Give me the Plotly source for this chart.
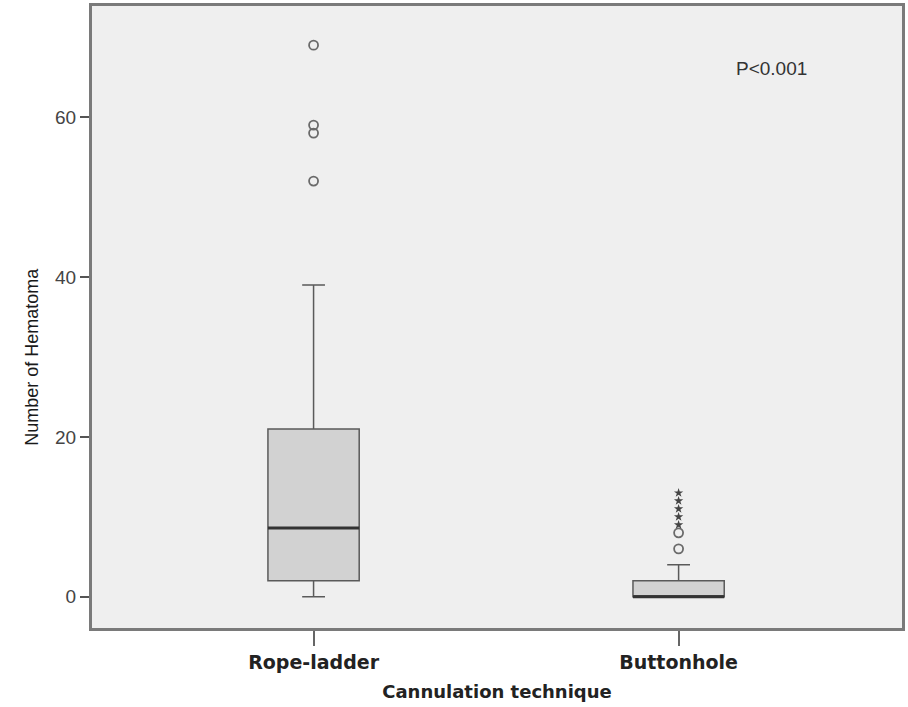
import plotly.graph_objects as go

categories = ["Rope-ladder", "Buttonhole"]
q1 = [2, 0]
median = [8.6, 0]
q3 = [21, 2]
lower_whisker = [0, 0]
upper_whisker = [39, 4]
outliers_circle = [[52, 58, 59, 69], [6, 8]]
outliers_extreme = [[], [9, 10, 11, 12, 13]]
y_ticks = [0, 20, 40, 60]
p_text = "P<0.001"
x_title = "Cannulation technique"
y_title = "Number of Hematoma"

FONT = "Liberation Sans, Arial, sans-serif"
BOLDFONT = "DejaVu Sans, Liberation Sans, sans-serif"
pos = list(range(len(categories)))
box_w = 0.25

fig = go.Figure()
fig.add_trace(go.Box(
    x=pos, q1=q1, median=median, q3=q3,
    lowerfence=lower_whisker, upperfence=upper_whisker,
    width=box_w, whiskerwidth=0.25,
    fillcolor="#d2d2d2", line=dict(color="#5a5a5a", width=1.5),
    boxpoints=False, showlegend=False, hoverinfo="skip",
))
# thicker median lines
for i, m in enumerate(median):
    fig.add_trace(go.Scatter(
        x=[pos[i] - box_w / 2, pos[i] + box_w / 2], y=[m, m],
        mode="lines", line=dict(color="#333333", width=3),
        showlegend=False, hoverinfo="skip",
    ))
for i in pos:
    if outliers_circle[i]:
        fig.add_trace(go.Scatter(
            x=[i] * len(outliers_circle[i]), y=outliers_circle[i], mode="markers",
            marker=dict(symbol="circle-open", size=9, color="#6a6a6a", line=dict(width=1.8)),
            showlegend=False, hoverinfo="skip",
        ))
    if outliers_extreme[i]:
        fig.add_trace(go.Scatter(
            x=[i] * len(outliers_extreme[i]), y=outliers_extreme[i], mode="markers",
            marker=dict(symbol="star", size=7, color="#444444"),
            showlegend=False, hoverinfo="skip",
        ))

fig.add_annotation(x=0.793, y=0.899, xref="paper", yref="paper", text=p_text,
                   showarrow=False, xanchor="left", yanchor="middle",
                   font=dict(family=FONT, size=19, color="#333333"))
fig.add_annotation(x=-0.074, y=0.436, xref="paper", yref="paper", text=y_title,
                   showarrow=False, xanchor="center", yanchor="middle", textangle=-90,
                   font=dict(family=FONT, size=18, color="#1a1a1a"))

fig.update_layout(
    width=908, height=707,
    margin=dict(l=92, r=3, t=5, b=79),
    paper_bgcolor="white", plot_bgcolor="#efefef",
    font=dict(family=FONT, color="#222222"),
)
fig.update_xaxes(
    range=[-0.607, 1.612], tickvals=pos, ticktext=categories,
    ticks="outside", ticklen=15, tickwidth=1.5, tickcolor="#666666",
    tickfont=dict(family=BOLDFONT, size=19, color="#222222", weight="bold"),
    showgrid=False, zeroline=False, showline=True, mirror=True,
    linecolor="#7a7a7a", linewidth=3,
    title=dict(text=x_title, font=dict(family=BOLDFONT, size=18, color="#222222", weight="bold"), standoff=14),
)
fig.update_yaxes(
    range=[-3.9, 73.9], tickvals=y_ticks,
    ticks="outside", ticklen=9, tickwidth=1.5, tickcolor="#555555",
    tickfont=dict(family=FONT, size=19, color="#444444"),
    showgrid=False, zeroline=False, showline=True, mirror=True,
    linecolor="#7a7a7a", linewidth=3,
)

fig.write_html("out.html", config={"displayModeBar": False},
               post_script="document.body.style.margin='0';document.body.style.overflow='hidden';")
